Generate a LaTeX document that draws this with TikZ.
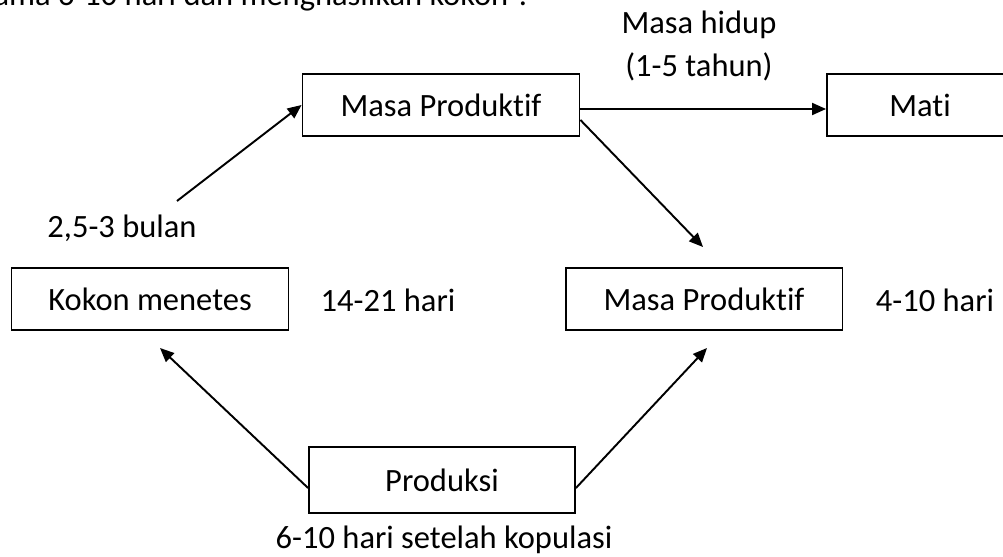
\documentclass[tikz,border=0pt]{standalone}
\usepackage{fontspec}
\setmainfont[RawFeature={-liga;-clig;-calt;-dlig}]{Carlito}
\usepackage{tikz}
\usetikzlibrary{positioning}
\usetikzlibrary{arrows.meta}

\begin{document}
\begin{tikzpicture} [->, >={Triangle[length=0.28cm,width=0.24cm]},
            x=0.02cm, y=-0.02cm, line width=1.1pt,
            align=center, font=\fontsize{18.5}{24.5}\selectfont]


            \tikzstyle{stage} = [rectangle, draw=black, minimum height=1.24cm, inner sep=0pt]
            \tikzstyle{note} = [inner sep=0pt]

            \clip (0, 0) rectangle (1003, 557);

            \node[note, anchor=base east](intro) at(528, 6) {selama 6-10 hari dan menghasilkan kokon”.};

            \node[stage, minimum width=5.54cm](prod_top) at(441, 105) {Masa Produktif};
            \node[stage, minimum width=3.72cm](mati) at(920, 105) {Mati};
            \node[stage, minimum width=5.54cm](kokon) at(150, 299) {Kokon menetes};
            \node[stage, minimum width=5.54cm](prod_mid) at(704, 299) {Masa Produktif};
            \node[stage, minimum width=5.32cm, minimum height=1.32cm](produksi) at(442, 480) {Produksi};

            \node[note](t_bulan) at(122, 228) {2,5-3 bulan};
            \node[note](t_kokon) at(388, 300) {14-21 hari};
            \node[note](t_prod) at(935, 300) {4-10 hari};
            \node[note](t_hidup) at(699, 46) {Masa hidup\\(1-5 tahun)};
            \node[note](t_kopulasi) at(444, 540) {6-10 hari setelah kopulasi};

            \coordinate (from_bulan) at(177, 201);
            \coordinate (to_mid) at(703, 247);
            \coordinate (to_kokon) at(160, 348);
            \coordinate (to_mid2) at(707, 348);

            \draw (from_bulan) -- (prod_top.west);
            \draw ([yshift=-0.08cm]prod_top.east) -- ([yshift=-0.08cm]mati.west);
            \draw ([yshift=-0.3cm]prod_top.east) -- (to_mid);
            \draw ([yshift=-0.16cm]produksi.west) -- (to_kokon);
            \draw ([yshift=-0.16cm]produksi.east) -- (to_mid2);
       \end{tikzpicture}
\end{document}
